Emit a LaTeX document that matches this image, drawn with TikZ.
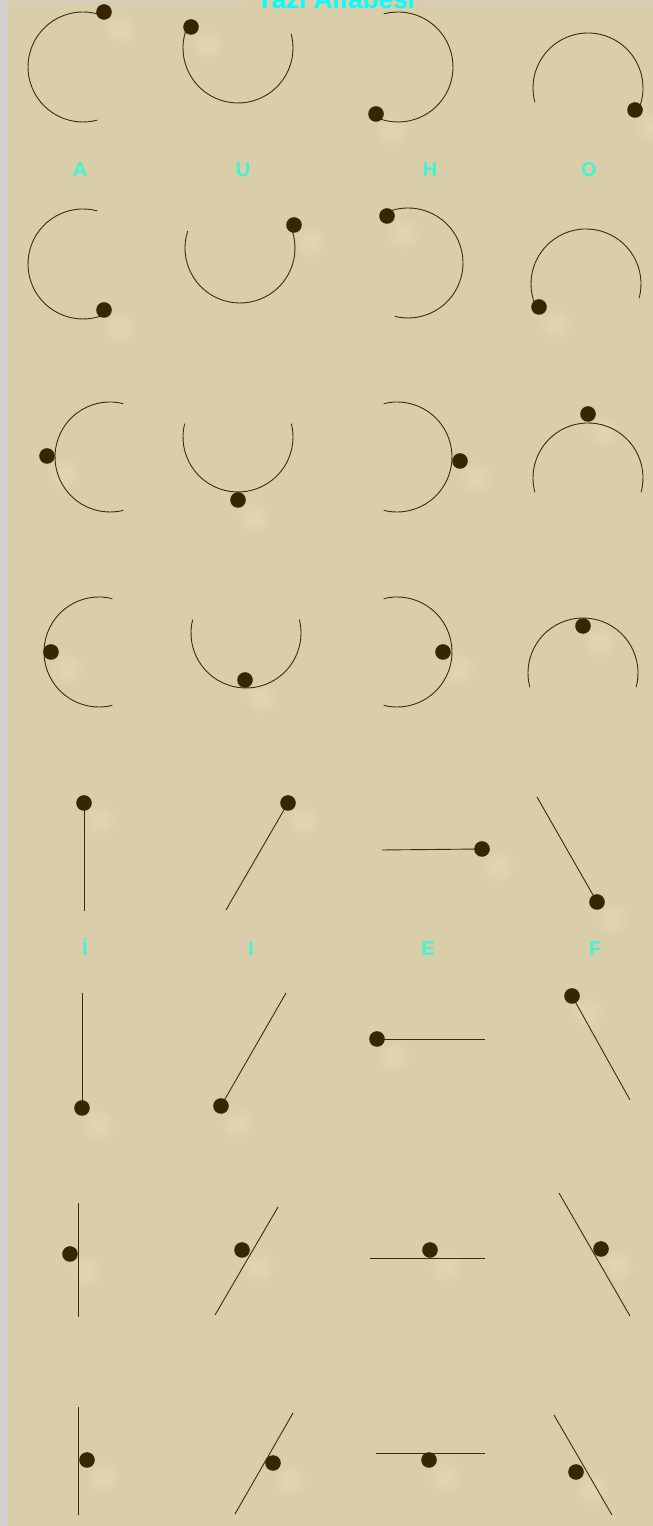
\documentclass[tikz,border=0pt]{standalone}
\usepackage{fontspec}
\newfontfamily\alfsans{Liberation Sans}
\usepackage{tikz}
\usetikzlibrary{calc}
\definecolor{alfBg}{RGB}{218,205,170}
\definecolor{alfFrame}{RGB}{208,208,208}
\definecolor{alfGlow}{RGB}{225,214,179}
\definecolor{alfInk}{RGB}{58,44,14}
\definecolor{alfDot}{RGB}{54,38,4}
\definecolor{alfTitle}{RGB}{0,255,255}
\definecolor{alfLetter}{RGB}{64,245,208}

\begin{document}
\begin{tikzpicture}[x=1pt,y=1pt,
    penline/.style={alfInk, line width=0.9pt},
    dotfill/.style={alfDot},
    glowspot/.style={inner color=alfGlow, outer color=alfBg},
    alfletter/.style={text=alfLetter, anchor=base, font=\alfsans\bfseries\fontsize{20}{24}\selectfont}]
    % page
    \useasboundingbox (0,0) rectangle (653,1526);
    \fill[alfFrame] (0,0) rectangle (653,1526);
    \fill[alfBg] (8,0) rectangle (653,1525);

    % title
    \node[anchor=base, fill=alfBg, inner xsep=6pt, text=alfTitle,
        font=\alfsans\bfseries\fontsize{26}{30}\selectfont] (title) at (335.5,1517) {Yazı Alfabesi};

    % row 1: dot at the end of the arc
    \shade[glowspot] (120,1497) circle (18);
    \draw[penline] (83,1459) ++(67:55) arc[start angle=67, end angle=285, radius=55];
    \fill[dotfill] (104,1514) circle (7.8);
    \shade[glowspot] (207,1482) circle (18);
    \draw[penline] (238,1478) ++(156:55) arc[start angle=156, end angle=375, radius=55];
    \fill[dotfill] (191,1499) circle (7.8);
    \shade[glowspot] (392,1395) circle (18);
    \draw[penline] (398,1459) ++(105:55) arc[start angle=105, end angle=-115, radius=55];
    \fill[dotfill] (376,1412) circle (7.8);
    \shade[glowspot] (651,1399) circle (18);
    \draw[penline] (588,1438) ++(-25:55) arc[start angle=-25, end angle=195, radius=55];
    \fill[dotfill] (635,1416) circle (7.8);

    % letters A U H O
    \node[alfletter] (lblA) at (80,1349) {A};
    \node[alfletter] (lblU) at (243,1349) {U};
    \node[alfletter] (lblH) at (430,1349) {H};
    \node[alfletter] (lblO) at (589,1349) {O};

    % row 2: dot at the other end
    \shade[glowspot] (120,1199) circle (18);
    \draw[penline] (83,1262) ++(75:55) arc[start angle=75, end angle=293, radius=55];
    \fill[dotfill] (104,1216) circle (7.8);
    \shade[glowspot] (310,1284) circle (18);
    \draw[penline] (240,1278) ++(162:55) arc[start angle=162, end angle=383, radius=55];
    \fill[dotfill] (294,1301) circle (7.8);
    \shade[glowspot] (403,1293) circle (18);
    \draw[penline] (408,1263) ++(114:55) arc[start angle=114, end angle=-104, radius=55];
    \fill[dotfill] (387,1310) circle (7.8);
    \shade[glowspot] (555,1202) circle (18);
    \draw[penline] (586,1242) ++(-15:55) arc[start angle=-15, end angle=206, radius=55];
    \fill[dotfill] (539,1219) circle (7.8);

    % row 3: dot outside the middle
    \shade[glowspot] (63,1053) circle (18);
    \draw[penline] (110,1069) ++(76:55) arc[start angle=76, end angle=284, radius=55];
    \fill[dotfill] (47,1070) circle (7.8);
    \shade[glowspot] (254,1009) circle (18);
    \draw[penline] (238,1089) ++(166:55) arc[start angle=166, end angle=374, radius=55];
    \fill[dotfill] (238,1026) circle (7.8);
    \shade[glowspot] (476,1048) circle (18);
    \draw[penline] (397,1069) ++(104:55) arc[start angle=104, end angle=-104, radius=55];
    \fill[dotfill] (460,1065) circle (7.8);
    \shade[glowspot] (604,1095) circle (18);
    \draw[penline] (588,1048) ++(-15:55) arc[start angle=-15, end angle=195, radius=55];
    \fill[dotfill] (588,1112) circle (7.8);

    % row 4: dot inside the middle
    \shade[glowspot] (67,857) circle (18);
    \draw[penline] (99,874) ++(76:55) arc[start angle=76, end angle=284, radius=55];
    \fill[dotfill] (51,874) circle (7.8);
    \shade[glowspot] (261,829) circle (18);
    \draw[penline] (246,893) ++(166:55) arc[start angle=166, end angle=374, radius=55];
    \fill[dotfill] (245,846) circle (7.8);
    \shade[glowspot] (459,857) circle (18);
    \draw[penline] (397,874) ++(104:55) arc[start angle=104, end angle=-104, radius=55];
    \fill[dotfill] (443,874) circle (7.8);
    \shade[glowspot] (599,883) circle (18);
    \draw[penline] (583,853) ++(-15:55) arc[start angle=-15, end angle=195, radius=55];
    \fill[dotfill] (583,900) circle (7.8);

    % row 5: straight strokes, dot at one end
    \shade[glowspot] (100,706) circle (18);
    \draw[penline] (84,615) -- (84,723);
    \fill[dotfill] (84,723) circle (7.8);
    \shade[glowspot] (304,706) circle (18);
    \draw[penline] (226,616) -- (288,723);
    \fill[dotfill] (288,723) circle (7.8);
    \shade[glowspot] (498,660) circle (18);
    \draw[penline] (382,676) -- (482,677);
    \fill[dotfill] (482,677) circle (7.8);
    \shade[glowspot] (613,607) circle (18);
    \draw[penline] (537,729) -- (597,624);
    \fill[dotfill] (597,624) circle (7.8);

    % letters I I E F
    \node[alfletter] (lblIdot) at (85,570) {İ};
    \node[alfletter] (lblI) at (251,570) {I};
    \node[alfletter] (lblE) at (428,570) {E};
    \node[alfletter] (lblF) at (595,570) {F};

    % row 6: dot at the other end
    \shade[glowspot] (98,401) circle (18);
    \draw[penline] (82,533) -- (82,418);
    \fill[dotfill] (82,418) circle (7.8);
    \shade[glowspot] (237,403) circle (18);
    \draw[penline] (286,533) -- (221,420);
    \fill[dotfill] (221,420) circle (7.8);
    \shade[glowspot] (393,470) circle (18);
    \draw[penline] (485,487) -- (377,487);
    \fill[dotfill] (377,487) circle (7.8);
    \shade[glowspot] (588,513) circle (18);
    \draw[penline] (630,426) -- (572,530);
    \fill[dotfill] (572,530) circle (7.8);

    % row 7: dot on one side
    \shade[glowspot] (86,255) circle (18);
    \draw[penline] (78,323) -- (78,209);
    \fill[dotfill] (70,272) circle (7.8);
    \shade[glowspot] (258,259) circle (18);
    \draw[penline] (215,211) -- (278,319);
    \fill[dotfill] (242,276) circle (7.8);
    \shade[glowspot] (446,259) circle (18);
    \draw[penline] (370,268) -- (485,268);
    \fill[dotfill] (430,276) circle (7.8);
    \shade[glowspot] (617,260) circle (18);
    \draw[penline] (559,333) -- (630,210);
    \fill[dotfill] (601,277) circle (7.8);

    % row 8: dot on the other side
    \shade[glowspot] (103,49) circle (18);
    \draw[penline] (78,119) -- (78,11);
    \fill[dotfill] (87,66) circle (7.8);
    \shade[glowspot] (289,46) circle (18);
    \draw[penline] (235,12) -- (293,113);
    \fill[dotfill] (273,63) circle (7.8);
    \shade[glowspot] (445,49) circle (18);
    \draw[penline] (376,73) -- (485,73);
    \fill[dotfill] (429,66) circle (7.8);
    \shade[glowspot] (592,37) circle (18);
    \draw[penline] (554,111) -- (612,11);
    \fill[dotfill] (576,54) circle (7.8);
\end{tikzpicture}
\end{document}
